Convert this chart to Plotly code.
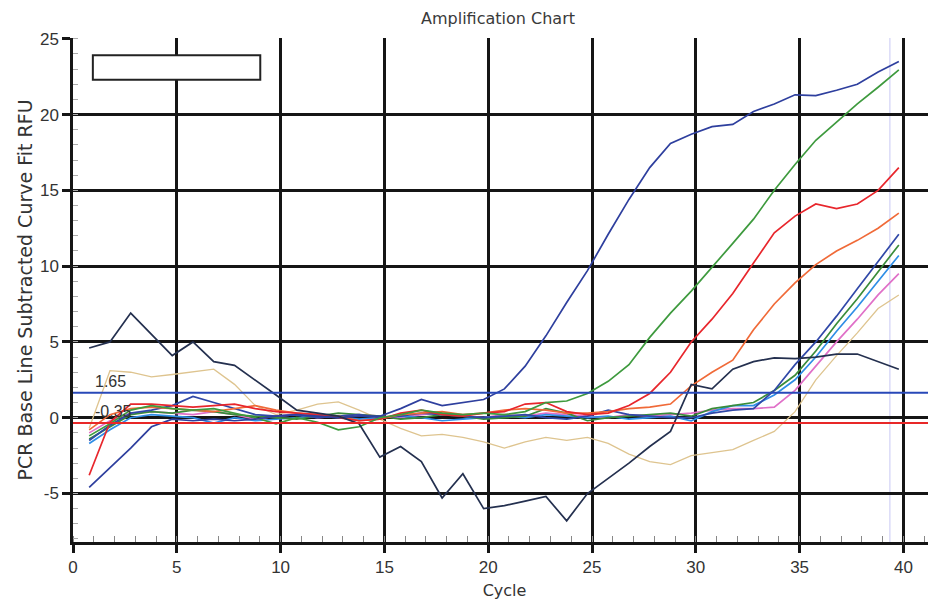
import plotly.graph_objects as go
import numpy as np

# ---------------- data ----------------
cycles = list(range(1, 41))

navy = [4.6, 5.0, 6.9, 5.5, 4.1, 5.0, 3.7, 3.45, 2.5, 1.5, 0.5, 0.3, 0.1, -0.4, -2.6, -1.9, -2.9, -5.3, -3.7, -6.0,
        -5.8, -5.5, -5.2, -6.8, -5.0, -4.0, -3.0, -1.9, -0.9, 2.2, 1.9, 3.2, 3.7, 3.95, 3.9, 4.0, 4.2, 4.2, 3.7, 3.2]
blue_a = [-4.6, -3.3, -2.0, -0.6, -0.1, -0.2, -0.1, -0.2, -0.1, 0.1, 0.2, 0.1, 0.0, 0.1, 0.1, 0.6, 1.2, 0.8, 1.0, 1.2,
          1.9, 3.4, 5.4, 7.6, 9.7, 12.1, 14.4, 16.5, 18.1, 18.7, 19.2, 19.35, 20.2, 20.7, 21.3, 21.25, 21.6, 22.0, 22.8, 23.5]
green_a = [-1.2, -0.4, 0.5, 0.8, 0.6, 0.5, 0.6, 0.3, 0.0, -0.4, 0.0, -0.3, -0.8, -0.6, 0.0, 0.2, 0.5, 0.3, 0.2, 0.3,
           0.2, 0.4, 1.0, 1.1, 1.6, 2.4, 3.5, 5.3, 6.9, 8.35, 9.9, 11.5, 13.1, 15.0, 16.7, 18.3, 19.5, 20.7, 21.8, 22.95]
red = [-3.8, -0.3, 0.9, 0.9, 0.8, 0.7, 0.8, 0.9, 0.6, 0.4, 0.3, 0.2, 0.0, -0.2, -0.1, 0.3, 0.5, 0.2, 0.1, 0.3,
       0.4, 0.9, 1.0, 0.4, 0.2, 0.3, 0.8, 1.6, 3.0, 5.0, 6.5, 8.2, 10.2, 12.2, 13.3, 14.1, 13.8, 14.1, 15.0, 16.5]
orange = [-0.8, 0.2, 0.6, 0.7, 0.6, 0.5, 0.4, 0.6, 0.8, 0.5, 0.3, 0.2, 0.1, -0.2, -0.1, 0.2, 0.3, 0.4, 0.2, 0.3,
          0.5, 0.6, 0.5, 0.3, 0.3, 0.4, 0.6, 0.7, 0.9, 2.1, 3.0, 3.8, 5.8, 7.5, 8.9, 10.1, 11.0, 11.7, 12.5, 13.5]
blue_b = [-1.5, -0.5, 0.3, 0.5, 0.8, 1.4, 1.0, 0.6, 0.2, 0.1, 0.2, 0.0, 0.1, 0.2, 0.0, 0.1, 0.3, 0.2, 0.1, 0.0,
          0.1, 0.2, 0.0, -0.1, 0.1, 0.5, 0.2, 0.1, 0.0, 0.0, 0.3, 0.5, 0.6, 1.8, 3.5, 5.0, 6.7, 8.5, 10.3, 12.1]
green_b = [-1.4, -0.6, 0.2, 0.4, 0.3, 0.5, 0.4, 0.2, 0.1, 0.0, -0.1, 0.1, 0.3, 0.2, 0.1, -0.1, 0.0, 0.2, 0.1, -0.1,
           0.0, 0.1, 0.6, 0.3, -0.2, 0.0, 0.1, 0.2, 0.3, 0.1, 0.6, 0.8, 1.0, 1.8, 2.8, 4.4, 6.2, 7.85, 9.6, 11.4]
light_blue = [-1.7, -0.8, 0.0, 0.2, 0.1, 0.0, -0.35, 0.0, -0.2, -0.1, 0.0, 0.1, 0.0, -0.1, 0.0, 0.1, 0.0, -0.2, -0.1, 0.0,
              0.1, 0.0, 0.2, 0.1, 0.0, 0.1, -0.1, 0.0, 0.1, -0.2, 0.4, 0.8, 0.8, 1.5, 2.5, 4.0, 5.7, 7.3, 9.0, 10.7]
pink = [-1.0, -0.2, 0.3, 0.4, 0.3, 0.2, 0.4, 0.2, -0.1, 0.1, 0.2, 0.0, 0.1, 0.2, 0.1, 0.0, 0.2, 0.3, 0.1, 0.0,
        0.2, 0.1, 0.3, 0.2, 0.1, 0.0, 0.2, 0.1, 0.2, 0.3, 0.5, 0.6, 0.6, 0.7, 1.8, 3.4, 5.0, 6.5, 8.1, 9.5]
tan = [-0.7, 3.1, 3.0, 2.7, 2.85, 3.0, 3.2, 2.2, 0.8, 0.2, 0.5, 0.9, 1.05, 0.5, -0.1, -0.7, -1.2, -1.1, -1.3, -1.6,
       -2.0, -1.6, -1.3, -1.5, -1.3, -1.7, -2.4, -2.9, -3.1, -2.5, -2.3, -2.1, -1.5, -0.9, 0.4, 2.5, 4.1, 5.6, 7.2, 8.1]

series_names = ["navy", "blue_a", "green_a", "red", "orange", "blue_b", "green_b", "light_blue", "pink", "tan"]
series_values = [navy, blue_a, green_a, red, orange, blue_b, green_b, light_blue, pink, tan]

thresholds = [1.65, -0.35]
threshold_labels = ["1.65", "-0.35"]
cursor_cycle = 39.35

x_ticks = [0, 5, 10, 15, 20, 25, 30, 35, 40]
y_ticks = [-5, 0, 5, 10, 15, 20, 25]

# ---------------- style ----------------
colors = {
    "navy": "#24304f",
    "blue_a": "#2e3f9e",
    "green_a": "#3e9a3e",
    "red": "#e8262c",
    "orange": "#f06a38",
    "blue_b": "#3048a8",
    "green_b": "#3a8c3a",
    "light_blue": "#2f8ee6",
    "pink": "#e070c8",
    "tan": "#dec48f",
}
widths = {"tan": 1.3}
threshold_colors = ["#2848b8", "#e82828"]
X_SHIFT = -0.22  # plotted position of each cycle's reading
FONT = "Liberation Sans, Arial, sans-serif"
WIDE_FONT = "DejaVu Sans, Verdana, sans-serif"
GRID = "#151515"

fig = go.Figure()
x_vals = np.array(cycles) + X_SHIFT
draw_order = ["tan", "pink", "light_blue", "green_b", "blue_b", "orange", "red", "green_a", "blue_a", "navy"]
for name in draw_order:
    vals = series_values[series_names.index(name)]
    fig.add_trace(go.Scatter(
        x=x_vals, y=vals, mode="lines", name=name,
        line=dict(color=colors[name], width=widths.get(name, 1.7)),
        showlegend=False, hoverinfo="skip",
    ))

shapes = []
annotations = []
for thr, lab, col in zip(thresholds, threshold_labels, threshold_colors):
    shapes.append(dict(type="line", xref="x domain", yref="y", x0=0, x1=1, y0=thr, y1=thr,
                       line=dict(color=col, width=2), layer="above"))
    annotations.append(dict(x=0.95, y=thr, xref="x", yref="y", text=lab, showarrow=False,
                            xanchor="left", yanchor="bottom", yshift=1,
                            font=dict(family=FONT, size=16, color="#333")))

# cursor line
shapes.append(dict(type="line", xref="x", yref="y domain", x0=cursor_cycle, x1=cursor_cycle, y0=0, y1=1,
                   line=dict(color="#c8c8f4", width=1), layer="below"))
# empty legend box
shapes.append(dict(type="rect", xref="paper", yref="paper", x0=0.023, x1=0.217, y0=0.917, y1=0.966,
                   line=dict(color="#222", width=2), fillcolor="white", layer="above"))

fig.update_layout(
    width=928, height=596,
    margin=dict(l=65, r=0, t=30, b=62),
    paper_bgcolor="white", plot_bgcolor="white",
    title=dict(text="Amplification Chart", x=490 / 928, xanchor="center", y=1 - 10 / 596, yanchor="middle",
               font=dict(family=WIDE_FONT, size=16, color="#3a3a3a")),
    shapes=shapes, annotations=annotations,
    xaxis=dict(
        range=[0, 41.57], tickvals=x_ticks, ticktext=[str(v) for v in x_ticks],
        showgrid=True, gridcolor=GRID, gridwidth=2.5, zeroline=False,
        showline=True, linecolor=GRID, linewidth=2.5,
        ticks="outside", ticklen=8, tickwidth=2.5, tickcolor=GRID,
        minor=dict(dtick=1, ticks="inside", ticklen=6, tickcolor="#888", tickwidth=1, showgrid=False),
        tickfont=dict(family=FONT, size=17, color="#333"),
        title=dict(text="Cycle", font=dict(family=WIDE_FONT, size=16, color="#333"), standoff=9),
    ),
    yaxis=dict(
        range=[-8.2, 25.05], tickvals=y_ticks, ticktext=[str(v) for v in y_ticks],
        showgrid=True, gridcolor=GRID, gridwidth=2.5, zeroline=False,
        showline=True, linecolor=GRID, linewidth=2.5,
        ticks="outside", ticklen=8, tickwidth=2.5, tickcolor=GRID,
        minor=dict(dtick=1, ticks="inside", ticklen=5, tickcolor="#aaa", tickwidth=1, showgrid=False),
        tickfont=dict(family=FONT, size=17, color="#333"),
        title=dict(text="PCR Base Line Subtracted Curve Fit RFU", font=dict(family=WIDE_FONT, size=19, color="#333"),
                   standoff=3),
    ),
)

fig.write_html("out.html")
